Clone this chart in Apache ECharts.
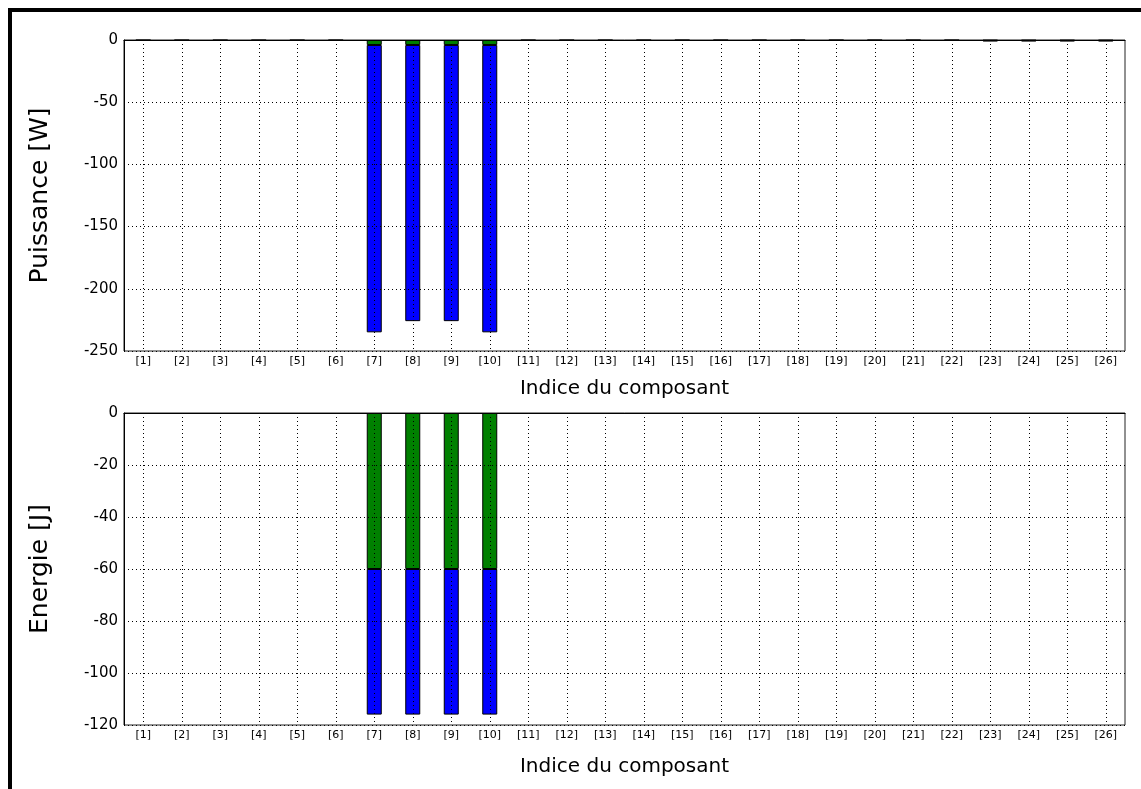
<!DOCTYPE html>
<html>
<head>
<meta charset="utf-8">
<script src="https://cdn.jsdelivr.net/npm/echarts@6/dist/echarts.min.js"></script>
<style>
html,body{margin:0;padding:0;background:#fff;}
#chart{width:1141px;height:789px;}
</style>
</head>
<body>
<div id="chart"></div>
<script>
const categories = ['[1]','[2]','[3]','[4]','[5]','[6]','[7]','[8]','[9]','[10]','[11]','[12]','[13]','[14]','[15]','[16]','[17]','[18]','[19]','[20]','[21]','[22]','[23]','[24]','[25]','[26]'];
// Puissance [W]
const powerGreen = [-0.2,-0.2,-0.2,-0.2,-0.2,-0.2,-4,-4,-4,-4,-0.2,-0.2,-0.2,-0.2,-0.2,-0.2,-0.2,-0.2,-0.2,-0.2,-0.2,-0.2,-0.4,-0.4,-0.4,-0.4];
const powerBlue = [0,0,0,0,0,0,-231,-222,-222,-231,0,0,0,0,0,0,0,0,0,0,0,0,-0.6,-0.6,-0.6,-0.6];
// Energie [J]
const energyGreen = [0,0,0,0,0,0,-60,-60,-60,-60,0,0,0,0,0,0,0,0,0,0,0,0,0,0,0,0];
const energyBlue = [0,0,0,0,0,0,-56,-56,-56,-56,0,0,0,0,0,0,0,0,0,0,0,0,0,0,0,0];

const FONT = 'DejaVu Sans';
const chart = echarts.init(document.getElementById('chart'), null, {renderer: 'canvas'});

function xAxisCfg(gridIndex, gap) {
  return {
    type: 'category', gridIndex, data: categories, z: 10,
    name: 'Indice du composant', nameLocation: 'middle', nameGap: gap,
    nameTextStyle: {fontFamily: FONT, fontSize: 20, color: '#000'},
    axisLine: {show: true, lineStyle: {color: '#000', width: 1}},
    axisTick: {show: false},
    axisLabel: {fontFamily: FONT, fontSize: 11, color: '#000', margin: 5, interval: 0},
    splitLine: {show: true, alignWithLabel: true, lineStyle: {color: '#000', type: [1, 3], width: 1}}
  };
}
function yAxisCfg(gridIndex, name, min, interval) {
  return {
    type: 'value', gridIndex, min, max: 0, interval, z: 10,
    name, nameLocation: 'middle', nameGap: 71,
    nameTextStyle: {fontFamily: FONT, fontSize: 25, color: '#000'},
    axisLine: {show: true, lineStyle: {color: '#000', width: 1}},
    axisTick: {show: false},
    axisLabel: {fontFamily: FONT, fontSize: 15, color: '#000', margin: 6},
    splitLine: {show: true, lineStyle: {color: '#000', type: [1, 3], width: 1}}
  };
}
function barSeries(data, color, xi, stack) {
  return {
    type: 'bar', data: data.map(v => (v === 0 ? '-' : v)), xAxisIndex: xi, yAxisIndex: xi, stack, barWidth: 15,
    itemStyle: {color, borderColor: '#000', borderWidth: 1}, z: 2, animation: false
  };
}

chart.setOption({
  animation: false,
  backgroundColor: '#fff',
  grid: [
    {left: 124, right: 16, top: 40, height: 311, show: true, borderColor: '#222', borderWidth: 1, backgroundColor: 'transparent'},
    {left: 124, right: 16, top: 413, height: 312, show: true, borderColor: '#222', borderWidth: 1, backgroundColor: 'transparent'}
  ],
  xAxis: [xAxisCfg(0, 28), xAxisCfg(1, 32)],
  yAxis: [yAxisCfg(0, 'Puissance [W]', -250, 50), yAxisCfg(1, 'Energie [J]', -120, 20)],
  series: [
    barSeries(powerGreen, '#008000', 0, 'p'),
    barSeries(powerBlue, '#0000ff', 0, 'p'),
    barSeries(energyGreen, '#008000', 1, 'e'),
    barSeries(energyBlue, '#0000ff', 1, 'e')
  ],
  graphic: [
    {type: 'rect', shape: {x: 8, y: 8, width: 1133, height: 4}, style: {fill: '#000'}},
    {type: 'rect', shape: {x: 8, y: 8, width: 4, height: 781}, style: {fill: '#000'}}
  ]
});
</script>
</body>
</html>
